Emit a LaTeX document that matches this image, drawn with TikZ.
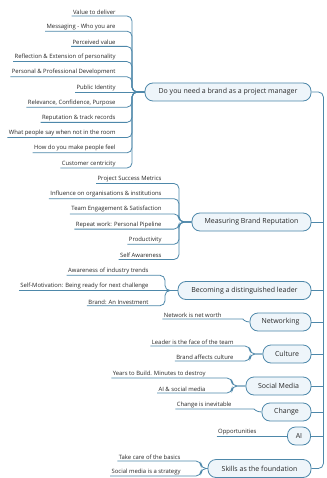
\documentclass[tikz,border=0pt]{standalone}
\usepackage{fontspec}
\setmainfont{Open Sans}
\definecolor{linec}{RGB}{78,136,170}
\definecolor{nodefill}{RGB}{238,245,250}
\definecolor{textc}{RGB}{40,40,40}
\newcommand\lffont{\fontsize{5.9}{7}\selectfont}
\newcommand\mnfont{\fontsize{7}{8}\selectfont}
\tikzset{
  leaf/.style={anchor=south east, inner sep=1.3pt, font=\lffont, text=textc},
  main/.style={draw=linec, fill=nodefill, rounded corners=8pt, minimum height=18pt,
    inner sep=2pt, font=\mnfont, text=textc, line width=0.8pt},
  conn/.style={draw=linec, line width=0.8pt, rounded corners=5pt},
}
\begin{document}
\begin{tikzpicture}[x=1pt,y=-1pt]
\useasboundingbox[fill=white] (0,0) rectangle (326,478);
\coordinate (tr) at (323,0);
% main nodes
\node[main, minimum width=166pt] (n1) at (228,92) {Do you need a brand as a project manager};
\node[main, minimum width=119pt] (n2) at (251.5,222) {Measuring Brand Reputation};
\node[main, minimum width=133pt] (n3) at (244.5,290.5) {Becoming a distinguished leader};
\node[main, minimum width=61pt] (n4) at (280.5,322) {Networking};
\node[main, minimum width=48pt] (n5) at (287,354) {Culture};
\node[main, minimum width=65pt] (n6) at (278.5,386) {Social Media};
\node[main, minimum width=49pt] (n7) at (286.5,412) {Change};
\node[main, minimum width=23pt] (n8) at (299,436) {AI};
\node[main, minimum width=103pt] (n9) at (259.5,468.5) {Skills as the foundation};
% trunk
\draw[conn] (n1.east) -| ([xshift=12pt]n9.east) -- (n9.east);
\foreach \n in {n2,n3,n4,n5,n6,n7,n8} \draw[conn] (\n.east) -- (\n.east -| tr);
% group 1
\node[leaf] (a1) at (117,16) {Value to deliver};
\node[leaf] (a2) at (117,31.2) {Messaging - Who you are};
\node[leaf] (a3) at (117,46.4) {Perceived value};
\node[leaf] (a4) at (117,61.6) {Reflection \& Extension of personality};
\node[leaf] (a5) at (117,76.8) {Personal \& Professional Development};
\node[leaf] (a6) at (117,92) {Public Identity};
\node[leaf] (a7) at (117,107.2) {Relevance, Confidence, Purpose};
\node[leaf] (a8) at (117,122.4) {Reputation \& track records};
\node[leaf] (a9) at (117,137.6) {What people say when not in the room};
\node[leaf] (a10) at (117,152.8) {How do you make people feel};
\node[leaf] (a11) at (117,168) {Customer centricity};
\foreach \i in {1,2,3,4,5,7,8,9,10,11} \draw[conn] (a\i.south west) -| (132,92) -- (n1.west);
\draw[conn] (a6.south west) -- (n1.west);
% group 2
\node[leaf] (b1) at (163,183.5) {Project Success Metrics};
\node[leaf] (b2) at (163,198.7) {Influence on organisations \& institutions};
\node[leaf] (b3) at (163,213.9) {Team Engagement \& Satisfaction};
\node[leaf] (b4) at (163,229.1) {Repeat work: Personal Pipeline};
\node[leaf] (b5) at (163,244.3) {Productivity};
\node[leaf] (b6) at (163,259.5) {Self Awareness};
\foreach \i in {1,...,6} \draw[conn] (b\i.south west) -| (179,222) -- (n2.west);
% group 3
\node[leaf] (c1) at (150,275.3) {Awareness of industry trends};
\node[leaf] (c2) at (150,290.5) {Self-Motivation: Being ready for next challenge};
\node[leaf] (c3) at (150,305.7) {Brand: An Investment};
\foreach \i in {1,3} \draw[conn] (c\i.south west) -| (165,290.5) -- (n3.west);
\draw[conn] (c2.south west) -- (n3.west);
% group 4
\node[leaf] (d1) at (223,319) {Network is net worth};
\draw[conn] (d1.south west) -- (238,319) to[out=0,in=180] (n4.west);
% group 5
\node[leaf] (e1) at (235,346) {Leader is the face of the team};
\node[leaf] (e2) at (235,361) {Brand affects culture};
\foreach \i in {1,2} \draw[conn] (e\i.south west) -| (250,354) -- (n5.west);
% group 6
\node[leaf] (f1) at (207,378) {Years to Build. Minutes to destroy};
\node[leaf] (f2) at (207,393) {AI \& social media};
\foreach \i in {1,2} \draw[conn] (f\i.south west) -| (232,386) -- (n6.west);
% group 7
\node[leaf] (g1) at (233,409) {Change is inevitable};
\draw[conn] (g1.south west) -- (249,409) to[out=0,in=180] (n7.west);
% group 8
\node[leaf] (h1) at (258,436) {Opportunities};
\draw[conn] (h1.south west) -- (n8.west);
% group 9
\node[leaf] (i1) at (182,461) {Take care of the basics};
\node[leaf] (i2) at (182,476) {Social media is a strategy};
\foreach \i in {1,2} \draw[conn] (i\i.south west) -| (201,468.5) -- (n9.west);
\end{tikzpicture}
\end{document}
